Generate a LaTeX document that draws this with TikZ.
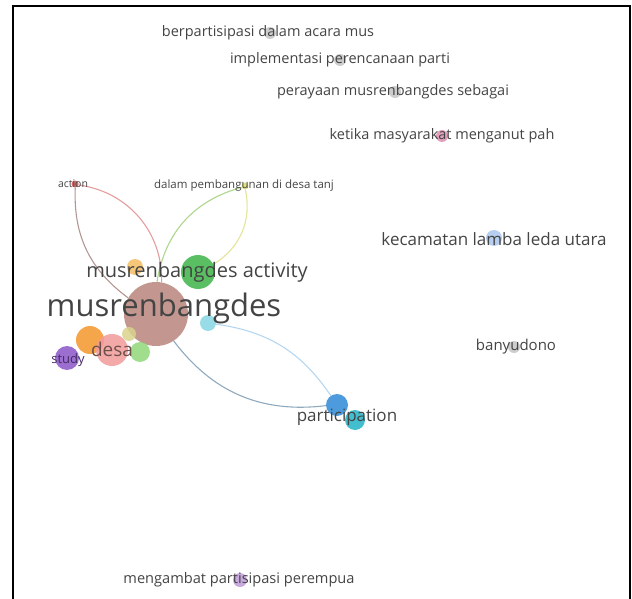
\documentclass[tikz,border=0pt]{standalone}
\usepackage{fontspec}
\setmainfont{Open Sans}
\usepackage{tikz}
\usetikzlibrary{backgrounds}

\definecolor{clbrown}{HTML}{B8857C}
\definecolor{clgreen}{HTML}{3DB346}
\definecolor{cllgreen}{HTML}{8FD87A}
\definecolor{clorange}{HTML}{F3962A}
\definecolor{cllorange}{HTML}{F5BC62}
\definecolor{clpink}{HTML}{F29A9A}
\definecolor{clkhaki}{HTML}{D9D28C}
\definecolor{clpurple}{HTML}{8A55C8}
\definecolor{clcyan}{HTML}{86D6E3}
\definecolor{clblue}{HTML}{2E8AD6}
\definecolor{clteal}{HTML}{22B3C6}
\definecolor{clsky}{HTML}{A9C5EC}
\definecolor{clgray}{HTML}{C4C4C4}
\definecolor{clrose}{HTML}{DC8FB0}
\definecolor{cllilac}{HTML}{BF9BD9}
\definecolor{clred}{HTML}{D05050}
\definecolor{clyellow}{HTML}{D8D870}
\definecolor{txtgray}{HTML}{444444}

\tikzset{
  dot/.style={circle, inner sep=0pt, minimum size=#1, fill opacity=0.85},
  word/.style={font=\fontsize{#1}{#1}\selectfont, text=txtgray, inner sep=0pt},
  link/.style={line width=1.1pt, draw opacity=0.7},
}

\begin{document}
\begin{tikzpicture}[x=1pt,y=-1pt]
\useasboundingbox (0,0) rectangle (632,599);
\draw[line width=2pt] (13,599) -- (13,6) -- (630,6) -- (630,599);

% bubbles
\node[dot=64, fill=clbrown] (mus) at (156,314) {};
\node[dot=34, fill=clgreen] (act) at (198,272) {};
\node[dot=16, fill=cllorange] (orsm) at (135,267) {};
\node[dot=16, fill=clcyan] (cyan) at (208,323) {};
\node[dot=14, fill=clkhaki] (khaki) at (129,334) {};
\node[dot=28, fill=clorange] (orbig) at (90,340) {};
\node[dot=32, fill=clpink] (desa) at (112,350) {};
\node[dot=20, fill=cllgreen] (lgreen) at (140,352) {};
\node[dot=24, fill=clpurple] (study) at (67,358) {};
\node[dot=22, fill=clblue] (part) at (337,405) {};
\node[dot=20, fill=clteal] (teal) at (355,420) {};
\node[dot=16, fill=clsky] (kec) at (494,238) {};
\node[dot=12, fill=clgray] (bany) at (514,347) {};
\node[dot=12, fill=clgray] (berp) at (270,33) {};
\node[dot=12, fill=clgray] (impl) at (340,60) {};
\node[dot=12, fill=clgray] (peray) at (395,92) {};
\node[dot=12, fill=clrose] (ketika) at (442,136) {};
\node[dot=14, fill=cllilac] (meng) at (240,580) {};
\node[dot=7, fill=clred] (action) at (75,184) {};
\node[dot=7, fill=clyellow] (dalam) at (245,186) {};

% links
\begin{scope}[on background layer]
  \draw[link, draw=clbrown!80!black] (action) to[bend right=28] (mus);
  \draw[link, draw=clred!80] (action) to[bend left=42] (mus);
  \draw[link, draw=clgreen!50!clyellow] (dalam) to[bend right=33] (mus);
  \draw[link, draw=clyellow] (dalam) to[bend left=35] (act);
  \draw[link, draw=clblue!40!gray] (mus) to[bend right=30] (part);
  \draw[link, draw=clblue!50] (cyan) to[bend left=24] (part);
\end{scope}

% labels
\node[word=31] (l-mus) at (164,308) {musrenbangdes};
\node[word=20] (l-act) at (197,272) {musrenbangdes activity};
\node[word=19, text=clbrown!60!black] (l-desa) at (112,349) {desa};
\node[word=13, text=clpurple!50!black] (l-study) at (68,360) {study};
\node[word=10.5] (l-action) at (73,184) {action};
\node[word=11.5] (l-dalam) at (244,186) {dalam pembangunan di desa tanj};
\node[word=14.5] (l-berp) at (268,33) {berpartisipasi dalam acara mus};
\node[word=14.5] (l-impl) at (340,60) {implementasi perencanaan parti};
\node[word=14.5] (l-peray) at (393,92) {perayaan musrenbangdes sebagai};
\node[word=14.5] (l-ketika) at (442,136) {ketika masyarakat menganut pah};
\node[word=17] (l-kec) at (494,239) {kecamatan lamba leda utara};
\node[word=15] (l-bany) at (516,347) {banyudono};
\node[word=17] (l-part) at (347,417) {participation};
\node[word=14.6] (l-meng) at (239,580) {mengambat partisipasi perempua};
\end{tikzpicture}
\end{document}
